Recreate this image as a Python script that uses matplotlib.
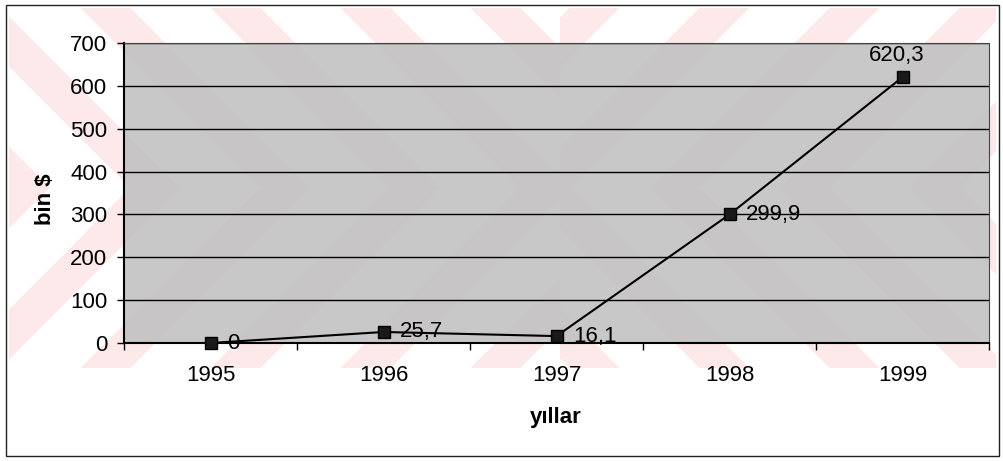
import numpy as np
import matplotlib.pyplot as plt
from matplotlib.patches import Rectangle

years = ["1995", "1996", "1997", "1998", "1999"]
values = [0, 25.7, 16.1, 299.9, 620.3]
yticks = [0, 100, 200, 300, 400, 500, 600, 700]

plt.rcParams["font.family"] = ["Liberation Sans", "DejaVu Sans"]
plt.rcParams["font.size"] = 16

W, H = 1004, 461
fig = plt.figure(figsize=(W / 100, H / 100), dpi=100)

# background: white page with faint pink diagonal watermark
bg = fig.add_axes([0, 0, 1, 1], zorder=-1)
xx, yy = np.meshgrid(np.arange(W), np.arange(H))
yc = 188
u = np.where(xx < 560, xx + np.abs(yy - yc), xx - np.abs(yy - yc))
stripe = ((u % 130) < 50) & (yy > 8) & (yy < 368) & (xx > 8) & (xx < 996)
img = np.ones((H, W, 3))
img[stripe] = [0.995, 0.91, 0.92]
bg.imshow(img, extent=(0, W, H, 0), aspect="auto", interpolation="nearest")
bg.add_patch(Rectangle((6, 5), 993, 451, fill=False, edgecolor="#222222", lw=1))
bg.set_xlim(0, W)
bg.set_ylim(H, 0)
bg.axis("off")

ax = fig.add_axes([124 / W, 1 - 343 / H, 865 / W, 300 / H])
ax.set_facecolor((0.76, 0.76, 0.76, 0.9))

x = np.arange(len(years))
ax.plot(x, values, color="black", lw=1.5, marker="s", ms=8,
        mfc="#1a1a1a", mec="black", zorder=3, clip_on=False)

for i, v in enumerate(values):
    lab = f"{v:g}".replace(".", ",")
    if i == len(values) - 1:
        ax.annotate(lab, (x[i], v), xytext=(-4, 8), textcoords="offset points",
                    ha="center", va="bottom")
    else:
        ax.annotate(lab, (x[i], v), xytext=(12, 0), textcoords="offset points",
                    ha="left", va="center")

ax.set_xlim(-0.5, len(years) - 0.5)
ax.set_ylim(0, 700)
ax.set_yticks(yticks)
ax.set_xticks(x)
ax.set_xticklabels(years)
ax.set_xticks(np.arange(-0.5, len(years), 1), minor=True)
ax.tick_params(axis="x", which="major", length=0, pad=16)
ax.tick_params(axis="x", which="minor", length=5, width=1, direction="out")
ax.tick_params(axis="y", length=5, width=1, pad=7)
ax.grid(axis="y", color="black", lw=1)
ax.set_axisbelow(True)

ax.spines["left"].set_linewidth(1.5)
ax.spines["bottom"].set_linewidth(1.5)
ax.spines["top"].set_color("#444444")
ax.spines["right"].set_color("#444444")

fig.text(46 / W, 1 - 199 / H, "bin $", rotation=90, ha="center", va="center",
         fontweight="bold")
fig.text(556 / W, 1 - 417 / H, "yıllar", ha="center", va="center",
         fontweight="bold")

fig.savefig("out.png", dpi=100)
